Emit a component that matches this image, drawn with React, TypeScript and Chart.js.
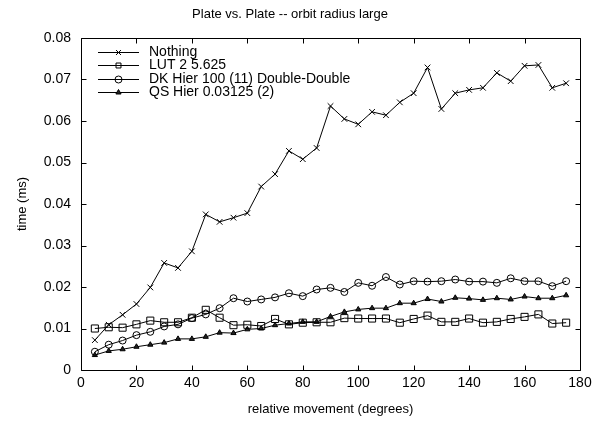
import React, { useEffect, useRef } from 'react';
import { Chart, registerables } from 'chart.js';
import { drawPoint } from 'chart.js/helpers';

Chart.register(...registerables);

const FONT = '"Liberation Sans", Arial, Helvetica, sans-serif';

const chartTitle = 'Plate vs. Plate -- orbit radius large';
const xAxisTitle = 'relative movement (degrees)';
const yAxisTitle = 'time (ms)';

const angles = [5, 10, 15, 20, 25, 30, 35, 40, 45, 50, 55, 60, 65, 70, 75, 80, 85, 90, 95, 100, 105, 110, 115, 120, 125, 130, 135, 140, 145, 150, 155, 160, 165, 170, 175];

const seriesNames = ['Nothing', 'LUT 2 5.625', 'DK Hier 100 (11) Double-Double', 'QS Hier 0.03125 (2)'];

const nothingValues = [0.0072, 0.0109, 0.0133, 0.0159, 0.0199, 0.0258, 0.0246, 0.0286, 0.0375, 0.0357, 0.0367, 0.0378, 0.0442, 0.0472, 0.0528, 0.0508, 0.0535, 0.0636, 0.0605, 0.0592, 0.0622, 0.0614, 0.0645, 0.0667, 0.0729, 0.0629, 0.0667, 0.0675, 0.0680, 0.0716, 0.0696, 0.0733, 0.0735, 0.0680, 0.0691];

const lutValues = [0.0100, 0.0103, 0.0102, 0.0110, 0.0119, 0.0115, 0.0115, 0.0126, 0.0145, 0.0126, 0.0108, 0.0109, 0.0106, 0.0123, 0.0110, 0.0114, 0.0115, 0.0115, 0.0125, 0.0124, 0.0124, 0.0124, 0.0114, 0.0123, 0.0131, 0.0116, 0.0116, 0.0124, 0.0114, 0.0116, 0.0123, 0.0128, 0.0134, 0.0112, 0.0114];

const dkValues = [0.0044, 0.0061, 0.0071, 0.0084, 0.0092, 0.0105, 0.0110, 0.0125, 0.0134, 0.0149, 0.0173, 0.0165, 0.0170, 0.0175, 0.0185, 0.0178, 0.0194, 0.0198, 0.0188, 0.0210, 0.0203, 0.0224, 0.0206, 0.0214, 0.0213, 0.0214, 0.0218, 0.0213, 0.0213, 0.0210, 0.0221, 0.0214, 0.0214, 0.0202, 0.0214];

const qsValues = [0.0036, 0.0046, 0.0050, 0.0056, 0.0061, 0.0066, 0.0075, 0.0075, 0.0080, 0.0090, 0.0089, 0.0098, 0.0100, 0.0108, 0.0112, 0.0116, 0.0116, 0.0129, 0.0140, 0.0146, 0.0149, 0.0149, 0.0161, 0.0161, 0.0171, 0.0165, 0.0174, 0.0172, 0.0169, 0.0173, 0.0170, 0.0177, 0.0173, 0.0173, 0.0180];

const xTicks = [0, 20, 40, 60, 80, 100, 120, 140, 160, 180];
const xTickLabels = ['0', '20', '40', '60', '80', '100', '120', '140', '160', '180'];
const yTicks = [0, 0.01, 0.02, 0.03, 0.04, 0.05, 0.06, 0.07, 0.08];
const yTickLabels = ['0', '0.01', '0.02', '0.03', '0.04', '0.05', '0.06', '0.07', '0.08'];

const markerStyles = ['crossRot', 'rect', 'circle', 'triangle'];
const markerRadii = [4, 5, 3.5, 3];
const markerFills = ['rgba(0,0,0,0)', 'rgba(0,0,0,0)', 'rgba(0,0,0,0)', '#222'];

const framePlugin = {
  id: 'gnuFrame',
  afterDraw(chart: any) {
    const { ctx, chartArea, scales } = chart;
    const l = Math.round(chartArea.left) + 0.5;
    const r = Math.round(chartArea.right) + 0.5;
    const t = Math.round(chartArea.top) + 0.5;
    const b = Math.round(chartArea.bottom) + 0.5;
    const tick = 5;
    ctx.save();
    ctx.strokeStyle = '#000';
    ctx.lineWidth = 1;
    ctx.beginPath();
    ctx.rect(l, t, r - l, b - t);
    for (const v of xTicks) {
      const x = Math.round(scales.x.getPixelForValue(v)) + 0.5;
      ctx.moveTo(x, b);
      ctx.lineTo(x, b - tick);
      ctx.moveTo(x, t);
      ctx.lineTo(x, t + tick);
    }
    for (const v of yTicks) {
      const y = Math.round(scales.y.getPixelForValue(v)) + 0.5;
      ctx.moveTo(l, y);
      ctx.lineTo(l + tick, y);
      ctx.moveTo(r, y);
      ctx.lineTo(r - tick, y);
    }
    ctx.stroke();
    ctx.restore();
  },
};

const legendPlugin = {
  id: 'insideLegend',
  afterDraw(chart: any) {
    const { ctx, chartArea } = chart;
    ctx.save();
    ctx.font = `14px ${FONT}`;
    ctx.textBaseline = 'middle';
    ctx.textAlign = 'left';
    chart.data.datasets.forEach((ds: any, i: number) => {
      const y = Math.round(chartArea.top + 13.5 + i * 13.6) + 0.5;
      const x0 = chartArea.left + 17;
      const x1 = chartArea.left + 58;
      ctx.strokeStyle = '#000';
      ctx.lineWidth = 1;
      ctx.beginPath();
      ctx.moveTo(x0, y);
      ctx.lineTo(x1, y);
      ctx.stroke();
      ctx.fillStyle = ds.pointBackgroundColor;
      drawPoint(ctx, { pointStyle: ds.pointStyle, radius: Math.min(ds.pointRadius, 3.5), borderWidth: 1, rotation: 0 } as any, (x0 + x1) / 2, y);
      ctx.fillStyle = '#000';
      ctx.fillText(ds.label, chartArea.left + 68, y);
    });
    ctx.restore();
  },
};

export default function App() {
  const canvasRef = useRef<HTMLCanvasElement | null>(null);

  useEffect(() => {
    document.body.style.margin = '0';
    const canvas = canvasRef.current;
    if (!canvas) return;
    const seriesValues = [nothingValues, lutValues, dkValues, qsValues];
    const tickFont = { family: FONT, size: 14, weight: 'normal' as const };
    const titleFont = { family: FONT, size: 13, weight: 'normal' as const };

    const chart = new Chart(canvas, {
      type: 'line',
      data: {
        datasets: seriesNames.map((name, si) => ({
          label: name,
          data: angles.map((a, i) => ({ x: a, y: seriesValues[si][i] })),
          borderColor: '#000',
          borderWidth: 1,
          pointStyle: markerStyles[si] as any,
          pointRadius: markerRadii[si],
          pointBorderColor: '#000',
          pointBorderWidth: 1,
          pointBackgroundColor: markerFills[si],
          fill: false,
          tension: 0,
        })),
      },
      options: {
        animation: false,
        responsive: false,
        devicePixelRatio: 1,
        layout: { padding: { left: 0, right: 24, top: 0, bottom: 0 } },
        plugins: {
          legend: { display: false },
          tooltip: { enabled: false },
          title: {
            display: true,
            text: chartTitle,
            color: '#000',
            font: titleFont,
            padding: { top: 6.5, bottom: 15.9 },
          },
        },
        scales: {
          x: {
            type: 'linear',
            min: 0,
            max: 180,
            afterBuildTicks: (s: any) => {
              s.ticks = xTicks.map((v) => ({ value: v }));
            },
            afterFit: (s: any) => {
              s.height = 51;
            },
            ticks: {
              callback: (_v: any, i: number) => xTickLabels[i],
              color: '#000',
              font: tickFont,
              padding: 5,
              maxRotation: 0,
              autoSkip: false,
            },
            grid: { display: false, drawTicks: false },
            border: { display: false },
            title: {
              display: true,
              text: xAxisTitle,
              color: '#000',
              font: titleFont,
              padding: { top: 0, bottom: 4.2 },
            },
          },
          y: {
            type: 'linear',
            min: 0,
            max: 0.08,
            afterBuildTicks: (s: any) => {
              s.ticks = yTicks.map((v) => ({ value: v }));
            },
            afterFit: (s: any) => {
              s.width = 81;
            },
            ticks: {
              callback: (_v: any, i: number) => yTickLabels[i],
              color: '#000',
              font: tickFont,
              padding: 10,
              autoSkip: false,
            },
            grid: { display: false, drawTicks: false },
            border: { display: false },
            title: {
              display: true,
              text: yAxisTitle,
              color: '#000',
              font: titleFont,
              padding: { top: 14.2, bottom: 0 },
            },
          },
        },
      },
      plugins: [framePlugin, legendPlugin],
    });

    return () => {
      chart.destroy();
    };
  }, []);

  return (
    <div style={{ width: 604, height: 421 }}>
      <canvas ref={canvasRef} width={604} height={421} style={{ display: 'block', width: 604, height: 421 }} />
    </div>
  );
}
